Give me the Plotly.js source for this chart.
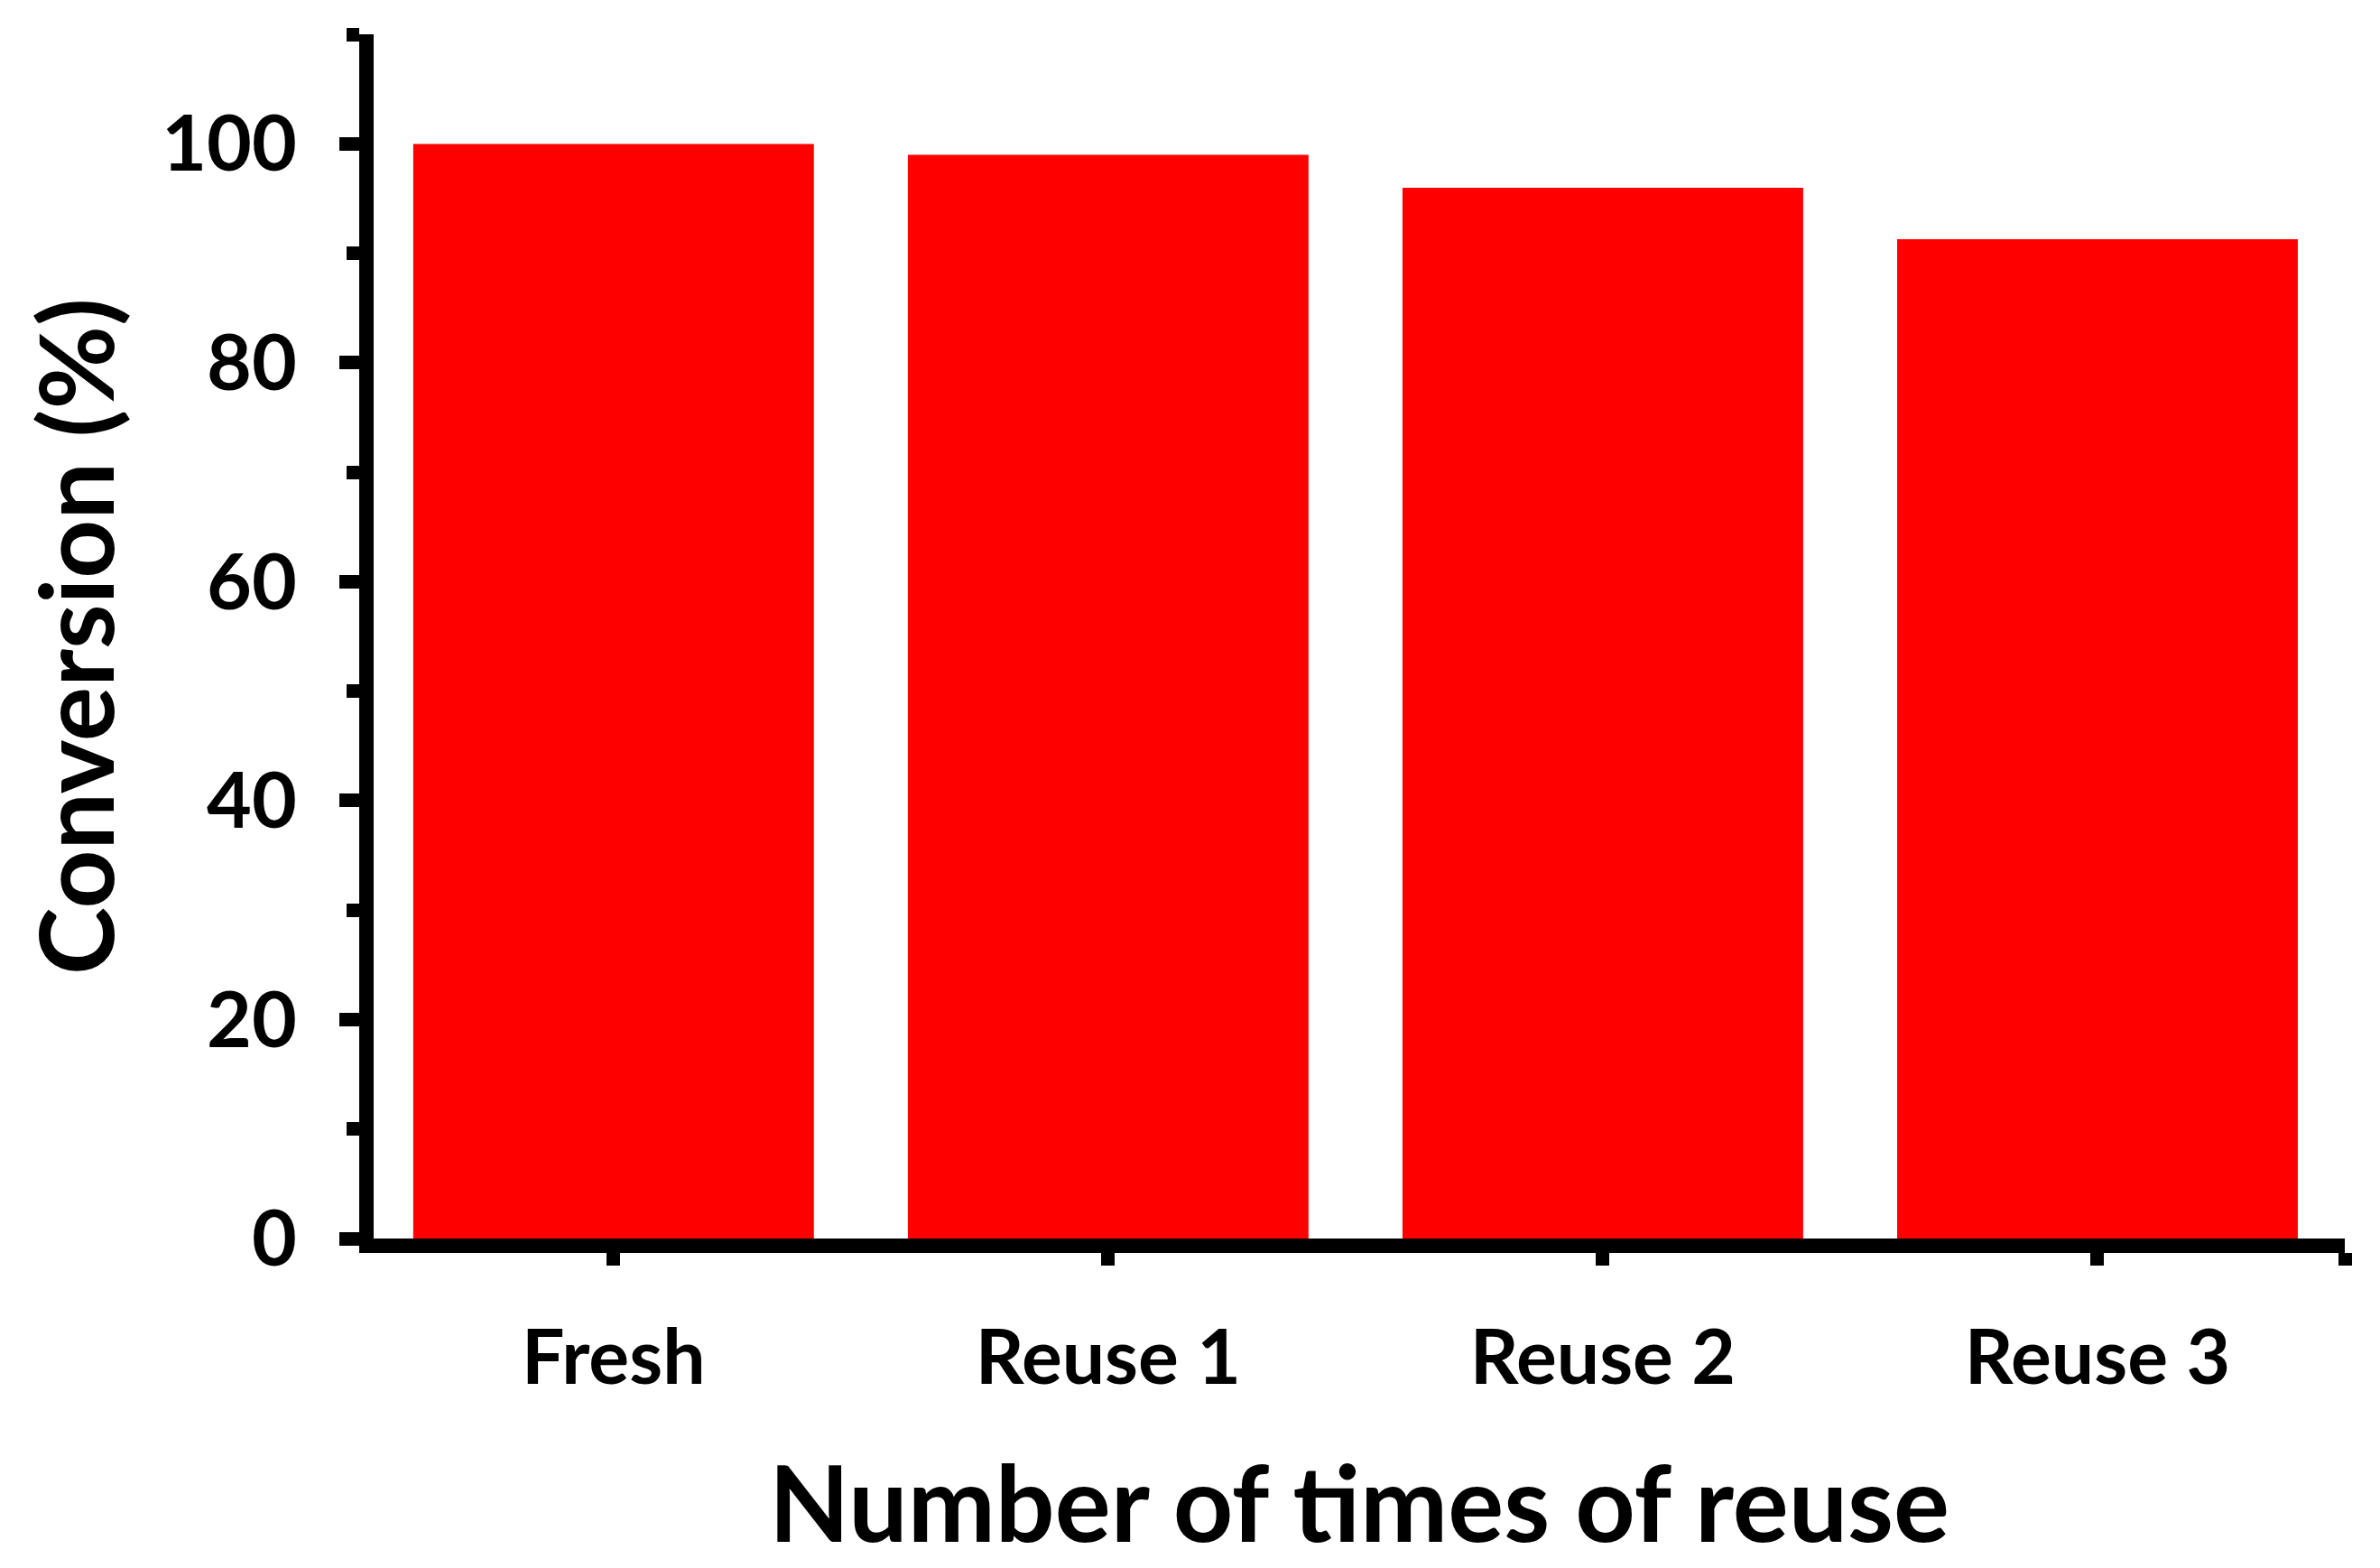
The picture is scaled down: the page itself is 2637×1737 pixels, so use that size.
<!DOCTYPE html>
<html>
<head>
<meta charset="utf-8">
<script src="https://cdn.plot.ly/plotly-3.0.1.min.js"></script>
<style>
  html, body { margin: 0; padding: 0; background: #fff; }
  #chart { width: 2637px; height: 1737px; }
</style>
</head>
<body>
<div id="chart"></div>
<script>
// Data
const categories = ["Fresh", "Reuse 1", "Reuse 2", "Reuse 3"];
const conversion = [100, 99, 96, 91.3];
const yTickValues = [0, 20, 40, 60, 80, 100];
const xTitle = "Number of times of reuse";
const yTitle = "Conversion (%)";

const xIndex = categories.map((c, i) => i);
const xTickVals = [-0.5].concat(xIndex, [3.5]);
const xTickText = [""].concat(categories, [""]);

const FONT = "Lato, 'Open Sans', 'DejaVu Sans', sans-serif";

const trace = {
  type: "bar",
  x: xIndex,
  y: conversion,
  marker: { color: "#FF0000", line: { width: 0 } },
  hoverinfo: "skip"
};

const layout = {
  width: 2637,
  height: 1737,
  paper_bgcolor: "#ffffff",
  plot_bgcolor: "#ffffff",
  margin: { l: 414, r: 39, t: 38, b: 365, pad: 0 },
  bargap: 0.19,
  showlegend: false,
  font: { family: FONT, color: "#000000", weight: "bold" },
  xaxis: {
    range: [-0.485, 3.5],
    tickmode: "array",
    tickvals: xTickVals,
    ticktext: xTickText,
    ticks: "outside",
    ticklen: 14,
    tickwidth: 15,
    tickcolor: "#000000",
    ticklabelstandoff: 30,
    tickfont: { family: FONT, size: 84, color: "#000000", weight: "bold" },
    showline: true,
    linewidth: 16,
    linecolor: "#000000",
    showgrid: false,
    zeroline: false,
    title: {
      text: xTitle,
      font: { family: FONT, size: 116, color: "#000000", weight: "bold" },
      standoff: 84
    }
  },
  yaxis: {
    range: [0, 110.01],
    tickmode: "array",
    tickvals: yTickValues,
    ticktext: yTickValues.map(String),
    ticks: "outside",
    ticklen: 22,
    tickwidth: 15,
    tickcolor: "#000000",
    ticklabelstandoff: 30,
    tickfont: { family: FONT, size: 86, color: "#000000", weight: "bold" },
    minor: {
      tickmode: "linear",
      tick0: 0,
      dtick: 10,
      ticks: "outside",
      ticklen: 14,
      tickwidth: 15,
      tickcolor: "#000000",
      showgrid: false
    },
    showline: true,
    linewidth: 16,
    linecolor: "#000000",
    showgrid: false,
    zeroline: false,
    title: {
      text: yTitle,
      font: { family: FONT, size: 113, color: "#000000", weight: "bold" },
      standoff: 22
    }
  }
};

Plotly.newPlot("chart", [trace], layout, { displayModeBar: false, staticPlot: true });
</script>
</body>
</html>
